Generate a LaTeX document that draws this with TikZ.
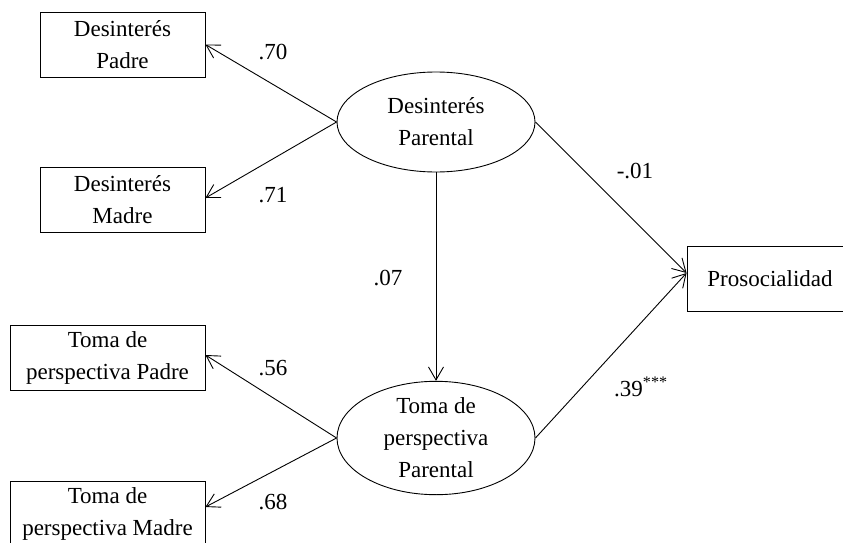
\documentclass[tikz,border=0pt]{standalone}
\usepackage{fontspec}
\setmainfont{Liberation Serif}
\usetikzlibrary{arrows.meta,shapes.geometric}
\begin{document}
\begin{tikzpicture}[x=1pt,y=-1pt,
  every node/.style={font=\fontsize{23}{32}\selectfont},
  obsbox/.style={draw,line width=0.9pt,rectangle,inner sep=0pt,align=center,minimum height=65pt},
  latent/.style={draw,line width=0.9pt,ellipse,inner sep=0pt,align=center,minimum width=198pt,minimum height=100pt},
  path/.style={line width=0.9pt,-{Straight Barb[length=13pt,width=15pt,line width=0.9pt]}},
  coef/.style={inner sep=0pt}]
\useasboundingbox (0,0) rectangle (843,543);
\node[obsbox,minimum width=165pt] (dpadre) at (122.5,44.5) {Desinterés\\Padre};
\node[obsbox,minimum width=165pt] (dmadre) at (122.5,199.5) {Desinterés\\Madre};
\node[obsbox,minimum width=195pt] (tpadre) at (107.5,357.5) {Toma de\\perspectiva Padre};
\node[obsbox,minimum width=195pt] (tmadre) at (107.5,513.5) {Toma de\\perspectiva Madre};
\node[obsbox,minimum width=166pt] (pros) at (770,278.5) {Prosocialidad};
\node[latent] (dp) at (436,122) {Desinterés\\Parental};
\node[latent] (tp) at (436,438) {Toma de\\perspectiva\\Parental};
\draw[path] (dp.west) -- (dpadre.east);
\draw[path] (dp.west) -- ([yshift=1.5pt]dmadre.east);
\draw[path] (tp.west) -- ([yshift=2.5pt]tpadre.east);
\draw[path] (tp.west) -- ([yshift=6.5pt]tmadre.east);
\draw[path] (dp.south) -- (tp.north);
\draw[path] (dp.east) -- ([yshift=5.5pt]pros.west);
\draw[path] (tp.east) -- ([yshift=5.5pt]pros.west);
\node[coef] (c1) at (273,52) {.70};
\node[coef] (c2) at (273,195) {.71};
\node[coef] (c3) at (273,368) {.56};
\node[coef] (c4) at (273,502) {.68};
\node[coef] (c5) at (388,278) {.07};
\node[coef] (c6) at (635,171) {-.01};
\node[coef,anchor=west] (c7) at (614,387) {.39\textsuperscript{***}};
\end{tikzpicture}
\end{document}
